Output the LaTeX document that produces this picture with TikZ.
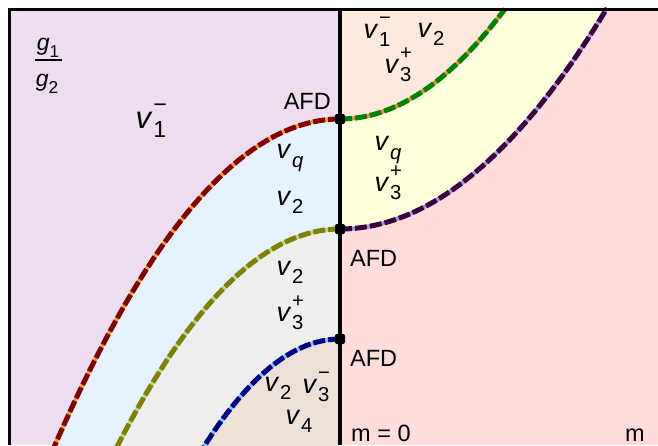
\documentclass[tikz,border=0pt]{standalone}
\usepackage{fontspec}
\setmainfont{Liberation Sans}
\usepackage{graphicx}
\definecolor{lavF}{HTML}{EEDDEE}
\definecolor{bluF}{HTML}{E6F3FF}
\definecolor{greyF}{HTML}{EEEEEE}
\definecolor{begF}{HTML}{EBE1D9}
\definecolor{peaF}{HTML}{FDE9DE}
\definecolor{yelF}{HTML}{FFFFDD}
\definecolor{pinF}{HTML}{FFDDDD}
\definecolor{cMar}{HTML}{800000}
\definecolor{gMar}{HTML}{E8A030}
\definecolor{cOli}{HTML}{808000}
\definecolor{gOli}{HTML}{B0D890}
\definecolor{cNav}{HTML}{000080}
\definecolor{gNav}{HTML}{80C0E8}
\definecolor{cGre}{HTML}{008000}
\definecolor{gGre}{HTML}{E09040}
\definecolor{cPur}{HTML}{3A0040}
\definecolor{gPur}{HTML}{9898D8}
\newcommand{\vsb}[1]{\textit{v}\kern0.02em\raisebox{-0.3em}{\scalebox{0.75}{#1}}}
\newcommand{\vsbp}[2]{\textit{v}\kern0.02em\rlap{\raisebox{0.5em}{\scalebox{0.75}{#2}}}\raisebox{-0.3em}{\scalebox{0.75}{#1}}}
\begin{document}
\begin{tikzpicture}[x=1pt,y=-1pt,
  lab/.style={inner sep=0pt, font=\fontsize{27}{27}\selectfont},
  biglab/.style={inner sep=0pt, font=\fontsize{31}{31}\selectfont},
  afd/.style={inner sep=0pt, font=\fontsize{23.5}{23.5}\selectfont},
  glab/.style={inner sep=0pt, font=\fontsize{23}{23}\selectfont},
  dotp/.style={rectangle, rounded corners=2pt, fill=black, inner sep=0pt, minimum size=10pt},
  gapline/.style={line width=4pt},
  dashline/.style={line width=5pt, dash pattern=on 12pt off 3pt}]
\useasboundingbox (0,0) rectangle (658,445);
% fills
\fill[lavF] (9,9) rectangle (340,445);
\fill[pinF] (340,9) rectangle (658,445);
\fill[bluF] plot[domain=0:288,samples=70] ({340-\x},{119+0.00401*\x*\x}) -- (340,452) -- cycle;
\fill[greyF] plot[domain=0:226,samples=70] ({340-\x},{229+0.00438*\x*\x}) -- (340,452) -- cycle;
\fill[begF] plot[domain=0:140,samples=70] ({340-\x},{339+0.00582*\x*\x}) -- (340,452) -- cycle;
\fill[yelF] plot[domain=0:267,samples=70] ({340+\x},{229-0.00309*\x*\x}) -- (340,8) -- cycle;
\fill[peaF] plot[domain=0:165,samples=70] ({340+\x},{119-0.00404*\x*\x}) -- (340,8) -- cycle;
% curves
\draw[gapline,gMar] plot[domain=0:288,samples=70] ({340-\x},{119+0.00401*\x*\x});
\draw[dashline,cMar] plot[domain=0:288,samples=70] ({340-\x},{119+0.00401*\x*\x});
\draw[gapline,gOli] plot[domain=0:226,samples=70] ({340-\x},{229+0.00438*\x*\x});
\draw[dashline,cOli] plot[domain=0:226,samples=70] ({340-\x},{229+0.00438*\x*\x});
\draw[gapline,gNav] plot[domain=0:140,samples=70] ({340-\x},{339+0.00582*\x*\x});
\draw[dashline,cNav] plot[domain=0:140,samples=70] ({340-\x},{339+0.00582*\x*\x});
\draw[gapline,gGre] plot[domain=0:165,samples=70] ({340+\x},{119-0.00404*\x*\x});
\draw[dashline,cGre] plot[domain=0:165,samples=70] ({340+\x},{119-0.00404*\x*\x});
\draw[gapline,gPur] plot[domain=0:267,samples=70] ({340+\x},{229-0.00309*\x*\x});
\draw[dashline,cPur] plot[domain=0:267,samples=70] ({340+\x},{229-0.00309*\x*\x});
% frame and axis
\coordinate (fbl) at (9,445);
\coordinate (ftl) at (9,9);
\coordinate (ftr) at (658,9);
\coordinate (atop) at (340,9);
\coordinate (abot) at (340,445);
\draw[line width=3pt] (fbl) -- (ftl) -- (ftr);
\draw[line width=4.5pt] (atop) -- (abot);
\node[dotp] (p1) at (340,119) {};
\node[dotp] (p2) at (340,229) {};
\node[dotp] (p3) at (340,339) {};
% fraction g1/g2
\node[glab] (g1) at (48,48) {\textit{g}\raisebox{-0.3em}{\scalebox{0.75}{1}}};
\node[glab] (g2) at (47,84) {\textit{g}\raisebox{-0.3em}{\scalebox{0.75}{2}}};
\coordinate (fb1) at (35,60);
\coordinate (fb2) at (62,60);
\draw[line width=1.3pt] (fb1) -- (fb2);
% labels left
\node[biglab] (l1) at (151,121) {\vsbp{1}{−}};
\node[afd, anchor=east] (afd1) at (331,101) {AFD};
\node[lab] (l2) at (290,158) {\vsb{\textit{q}}};
\node[lab] (l3) at (290,202) {\vsb{2}};
\node[lab] (l4) at (290,272) {\vsb{2}};
\node[lab] (l5) at (290,313) {\vsbp{3}{+}};
\node[lab] (l6) at (278,388) {\vsb{2}};
\node[lab] (l7) at (316,387) {\vsbp{3}{−}};
\node[lab] (l8) at (299,421) {\vsb{4}};
% labels right
\node[lab] (r1) at (377,32) {\vsbp{1}{−}};
\node[lab] (r2) at (431,34) {\vsb{2}};
\node[lab] (r3) at (398,65) {\vsbp{3}{+}};
\node[lab] (r4) at (388,150) {\vsb{\textit{q}}};
\node[lab] (r5) at (388,183) {\vsbp{3}{+}};
\node[afd, anchor=west] (afd2) at (350,258) {AFD};
\node[afd, anchor=west] (afd3) at (350,358) {AFD};
\node[afd, anchor=west] (m0) at (351,433) {m = 0};
\node[afd] (m1) at (635,435) {m};
\end{tikzpicture}
\end{document}
